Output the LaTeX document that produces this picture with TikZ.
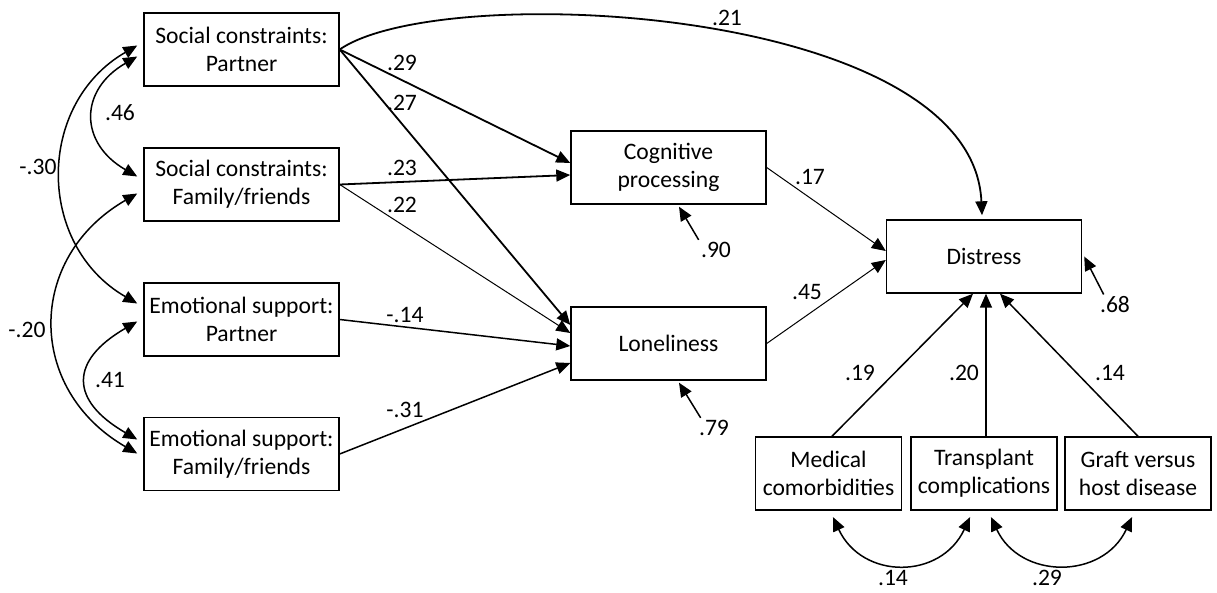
\documentclass[tikz,border=0pt]{standalone}
\usepackage{fontspec}
\setmainfont{Carlito}
\usetikzlibrary{arrows.meta}

\tikzset{
  var/.style={draw, line width=0.7pt, minimum width=97.5pt, minimum height=36.5pt, align=center, inner sep=1pt, font=\fontsize{11.8}{14.2}\selectfont},
  smallvar/.style={var, minimum width=73pt},
  coef/.style={inner sep=1pt, font=\fontsize{11.8}{14.2}\selectfont},
  eff/.style={-{Triangle[length=7pt,width=6pt]}, line width=0.75pt},
  cov/.style={{Triangle[length=7pt,width=6pt]}-{Triangle[length=7pt,width=6pt]}, line width=0.75pt, shorten <=3.5pt, shorten >=3.5pt}
}

\begin{document}
\begin{tikzpicture}[x=0.5pt,y=0.5pt]
\useasboundingbox (0,0) rectangle (1217,-593);

% variables
\node [var] (scp) at (241.5,-49.5) {Social constraints:\\Partner};
\node [var] (scf) at (241.5,-184.5) {Social constraints:\\Family/friends};
\node [var] (esp) at (241.5,-319.5) {Emotional support:\\Partner};
\node [var] (esf) at (241.5,-454) {Emotional support:\\Family/friends};
\node [var] (cog) at (668.5,-167.5) {Cognitive\\processing};
\node [var] (lon) at (668.5,-343.5) {Loneliness};
\node [var] (dis) at (984,-256.5) {Distress};
\node [smallvar] (med) at (828.5,-473.5) {Medical\\comorbidities};
\node [smallvar] (tra) at (984,-473.5) {Transplant\\complications};
\node [smallvar] (gvh) at (1138,-473.5) {Graft versus\\host disease};

% paths
\draw [eff, line width=0.9pt] (scp.east) -- ([yshift=2.25pt]cog.west);
\draw [eff, line width=0.9pt] (scp.east) -- ([yshift=9.25pt]lon.west);
\draw [eff, line width=0.9pt] (scf.east) -- ([yshift=-3.75pt]cog.west);
\draw [eff, line width=0.5pt] (scf.east) -- ([yshift=5.25pt]lon.west);
\draw [eff] (esp.east) -- ([yshift=-1.25pt]lon.west);
\draw [eff] (esf.east) -- ([yshift=-9.75pt]lon.west);
\draw [eff, line width=0.5pt] (cog.east) -- ([yshift=2.75pt]dis.west);
\draw [eff, line width=0.5pt] (lon.east) -- ([yshift=-1.75pt]dis.west);
\draw [eff, line width=0.9pt] (scp.east) .. controls +(101,70) and +(-9,210) .. ([xshift=-1pt,yshift=2pt]dis.north);
\draw [eff] ([xshift=1.75pt]med.north) -- ([xshift=-5.5pt]dis.south);
\draw [eff] ([xshift=1pt]tra.north) -- ([xshift=1pt]dis.south);
\draw [eff] (gvh.north) -- ([xshift=8pt]dis.south);

\node [coef] at (402,-63) {.29};
\node [coef] at (402,-103) {.27};
\node [coef] at (402,-168) {.23};
\node [coef] at (402,-205) {.22};
\node [coef] at (405,-315) {-.14};
\node [coef] at (405,-410) {-.31};
\node [coef] at (727,-18) {.21};
\node [coef] at (810,-177) {.17};
\node [coef] at (807,-292) {.45};
\node [coef] at (860,-373) {.19};
\node [coef] at (964,-373) {.20};
\node [coef] at (1110,-373) {.14};

% residuals
\node [coef] (r90) at (716,-250) {.90};
\node [coef] (r79) at (714,-428) {.79};
\node [coef] (r68) at (1115,-305) {.68};
\draw [eff] (r90.north west) -- ([xshift=5.25pt,yshift=-1pt]cog.south);
\draw [eff] ([xshift=2pt]r79.north west) -- ([xshift=5.25pt,yshift=-1pt]lon.south);
\draw [eff] ([xshift=3pt]r68.north west) -- ([xshift=1pt]dis.east);

% covariances
\draw [cov] ([yshift=-1.75pt]scp.west) to[out=210,in=150,looseness=1.5] ([yshift=2.25pt]scf.west);
\draw [cov] ([yshift=3.75pt]scp.west) to[out=210,in=150,looseness=1.2] ([yshift=6.25pt]esp.west);
\draw [cov] ([yshift=-2.75pt]scf.west) to[out=210,in=150,looseness=1.3] ([yshift=-1.5pt]esf.west);
\draw [cov] ([yshift=0.75pt]esp.west) to[out=210,in=150,looseness=1.75] ([yshift=5.5pt]esf.west);
\draw [cov] ([xshift=0.75pt]med.south) to[out=-65,in=245,looseness=1.37] ([xshift=-5.5pt]tra.south);
\draw [cov] ([xshift=2pt]tra.south) to[out=-65,in=245,looseness=1.33] ([xshift=-1.5pt]gvh.south);

\node [coef] at (120,-113) {.46};
\node [coef] at (38,-167) {-.30};
\node [coef] at (27,-330) {-.20};
\node [coef] at (110,-380) {.41};
\node [coef] at (893,-578) {.14};
\node [coef] at (1047,-578) {.29};
\end{tikzpicture}
\end{document}
